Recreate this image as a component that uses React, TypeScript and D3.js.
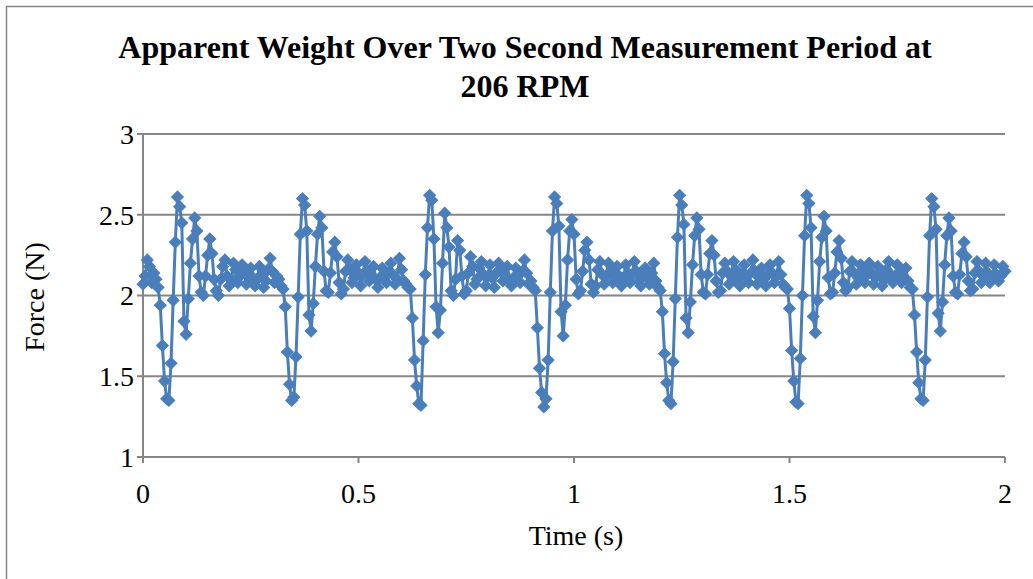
import React from "react";
import * as d3 from "d3";

// Sampling: 200 Hz over 2 s (401 samples)
const SAMPLE_INTERVAL = 0.005;

// Force readings (N), grouped by revolution
const leadIn = [2.07, 2.12, 2.22, 2.18, 2.08, 2.14, 2.10, 2.05];
const rev1 = [
  1.94, 1.69, 1.47, 1.36, 1.35, 1.58, 1.97, 2.33, 2.61, 2.55,
  2.45, 1.84, 1.76, 1.98, 2.20, 2.35, 2.48, 2.40, 2.12, 2.02,
  2.00, 2.12, 2.25, 2.35, 2.26, 2.10, 2.03, 2.00, 2.10, 2.18,
  2.22, 2.12, 2.06, 2.10, 2.20, 2.16, 2.08, 2.12, 2.19, 2.14,
  2.07, 2.12, 2.17, 2.11, 2.06, 2.10, 2.18, 2.13, 2.05, 2.09,
  2.16, 2.23, 2.15, 2.08, 2.12, 2.10, 2.06, 2.04,
];
const rev2 = [
  1.93, 1.65, 1.45, 1.35, 1.37, 1.62, 1.99, 2.38, 2.60, 2.56,
  2.40, 1.88, 1.78, 1.95, 2.18, 2.38, 2.49, 2.42, 2.15, 2.03,
  2.02, 2.14, 2.27, 2.33, 2.24, 2.08, 2.01, 2.04, 2.15, 2.22,
  2.16, 2.08, 2.11, 2.19, 2.14, 2.06, 2.13, 2.21, 2.15, 2.09,
  2.12, 2.18, 2.10, 2.05, 2.11, 2.17, 2.12, 2.08, 2.14, 2.20,
  2.13, 2.07, 2.10, 2.23, 2.16, 2.09, 2.07, 2.05, 2.04,
];
const rev3 = [
  1.86, 1.60, 1.44, 1.33, 1.32, 1.72, 2.13, 2.42, 2.62, 2.59,
  2.35, 1.93, 1.77, 1.91, 2.20, 2.51, 2.42, 2.30, 2.03, 2.00,
  2.10, 2.34, 2.28, 2.12, 2.01, 2.03, 2.14, 2.24, 2.18, 2.07,
  2.10, 2.17, 2.21, 2.13, 2.06, 2.12, 2.19, 2.11, 2.05, 2.14,
  2.20, 2.16, 2.09, 2.12, 2.18, 2.10, 2.06, 2.11, 2.17, 2.13,
  2.08, 2.15, 2.22, 2.14, 2.07, 2.09, 2.05, 2.03,
];
const rev4 = [
  1.80, 1.55, 1.40, 1.31, 1.36, 1.60, 2.02, 2.40, 2.61, 2.57,
  2.43, 1.90, 1.75, 1.94, 2.22, 2.40, 2.47, 2.38, 2.10, 2.01,
  2.03, 2.15, 2.28, 2.33, 2.22, 2.07, 2.02, 2.06, 2.16, 2.21,
  2.13, 2.07, 2.12, 2.20, 2.15, 2.08, 2.11, 2.18, 2.12, 2.06,
  2.10, 2.19, 2.14, 2.08, 2.13, 2.21, 2.15, 2.09, 2.06, 2.12,
  2.17, 2.11, 2.07, 2.14, 2.20, 2.09, 2.05, 2.03,
];
const rev5 = [
  1.90, 1.64, 1.46, 1.35, 1.33, 1.59, 1.98, 2.36, 2.62, 2.56,
  2.44, 1.86, 1.77, 1.96, 2.19, 2.37, 2.48, 2.41, 2.13, 2.02,
  2.01, 2.13, 2.26, 2.34, 2.25, 2.09, 2.02, 2.03, 2.14, 2.20,
  2.15, 2.07, 2.12, 2.21, 2.16, 2.09, 2.06, 2.13, 2.19, 2.12,
  2.08, 2.14, 2.22, 2.15, 2.07, 2.11, 2.17, 2.10, 2.06, 2.13,
  2.19, 2.14, 2.08, 2.12, 2.21, 2.13, 2.07, 2.05, 2.04,
];
const rev6 = [
  1.92, 1.66, 1.47, 1.34, 1.33, 1.61, 2.00, 2.37, 2.62, 2.57,
  2.42, 1.87, 1.77, 1.97, 2.21, 2.36, 2.49, 2.40, 2.11, 2.01,
  2.02, 2.14, 2.27, 2.34, 2.23, 2.08, 2.03, 2.05, 2.15, 2.21,
  2.14, 2.07, 2.11, 2.19, 2.16, 2.08, 2.13, 2.20, 2.14, 2.07,
  2.11, 2.18, 2.12, 2.06, 2.10, 2.16, 2.21, 2.13, 2.08, 2.12,
  2.19, 2.14, 2.08, 2.11, 2.17, 2.09, 2.05, 2.04,
];
const rev7 = [
  1.88, 1.65, 1.46, 1.36, 1.35, 1.60, 1.99, 2.37, 2.60, 2.55,
  2.41, 1.89, 1.78, 1.96, 2.19, 2.37, 2.48, 2.40, 2.12, 2.02,
  2.01, 2.13, 2.26, 2.33, 2.24, 2.09, 2.03, 2.04, 2.14, 2.21,
  2.15, 2.08, 2.12, 2.20, 2.14, 2.08, 2.11, 2.19, 2.13, 2.09,
  2.12, 2.18, 2.15,
];

const xTicks = [0, 0.5, 1, 1.5, 2];
const yTicks = [1, 1.5, 2, 2.5, 3];
const titleLines = [
  "Apparent Weight Over Two Second Measurement Period at",
  "206 RPM",
];
const xTitle = "Time (s)";
const yTitle = "Force (N)";

const force = [...leadIn, ...rev1, ...rev2, ...rev3, ...rev4, ...rev5, ...rev6, ...rev7];
const points = force.map((f, i) => ({ t: i * SAMPLE_INTERVAL, f }));

const W = 1033;
const H = 579;
const PLOT = { left: 143, right: 1005, top: 134, bottom: 457 };
const GRID = "#868686";
const BLUE = "#4a7ebb";
const FONT = "'Liberation Serif', 'Times New Roman', serif";

export default function App() {
  const x = d3.scaleLinear().domain([0, 2]).range([PLOT.left, PLOT.right]);
  const y = d3.scaleLinear().domain([1, 3]).range([PLOT.bottom, PLOT.top]);
  const line = d3
    .line<{ t: number; f: number }>()
    .x((d) => x(d.t))
    .y((d) => y(d.f));
  const marker = d3.symbol(d3.symbolSquare, 70)();

  return (
    <svg
      width={W}
      height={H}
      style={{ position: "absolute", left: 0, top: 0, background: "#fff" }}
      fontFamily={FONT}
    >
      <rect x={0} y={0} width={W} height={H} fill="#fff" />
      <rect x={6.5} y={6.5} width={W + 20} height={H + 20} fill="none" stroke={GRID} strokeWidth={1.5} />

      {titleLines.map((t, i) => (
        <text
          key={i}
          x={525}
          y={58 + i * 39}
          textAnchor="middle"
          fontWeight="bold"
          fontSize={32}
          fill="#000"
        >
          {t}
        </text>
      ))}

      {yTicks.map((v) => (
        <g key={"gy" + v}>
          <line x1={PLOT.left - 6} x2={PLOT.right} y1={y(v)} y2={y(v)} stroke={GRID} strokeWidth={2} />
          <text x={PLOT.left - 9} y={y(v)} dy="0.35em" textAnchor="end" fontSize={28} fill="#000">
            {v}
          </text>
        </g>
      ))}
      <line x1={PLOT.left} x2={PLOT.left} y1={PLOT.top} y2={PLOT.bottom} stroke={GRID} strokeWidth={2} />
      {xTicks.map((v) => (
        <g key={"gx" + v}>
          <line x1={x(v)} x2={x(v)} y1={PLOT.bottom} y2={PLOT.bottom + 6} stroke={GRID} strokeWidth={2} />
          <text x={x(v)} y={503} textAnchor="middle" fontSize={28} fill="#000">
            {v}
          </text>
        </g>
      ))}

      <text x={576} y={545} textAnchor="middle" fontSize={28} fill="#000">
        {xTitle}
      </text>
      <text transform="translate(44,297) rotate(-90)" textAnchor="middle" fontSize={28} fill="#000">
        {yTitle}
      </text>

      <path d={line(points) || ""} fill="none" stroke={BLUE} strokeWidth={3} strokeLinejoin="round" />
      {points.map((p, i) => (
        <path
          key={i}
          d={marker || ""}
          transform={`translate(${x(p.t)},${y(p.f)}) rotate(45)`}
          fill={BLUE}
          stroke={BLUE}
          strokeWidth={1}
        />
      ))}
    </svg>
  );
}
